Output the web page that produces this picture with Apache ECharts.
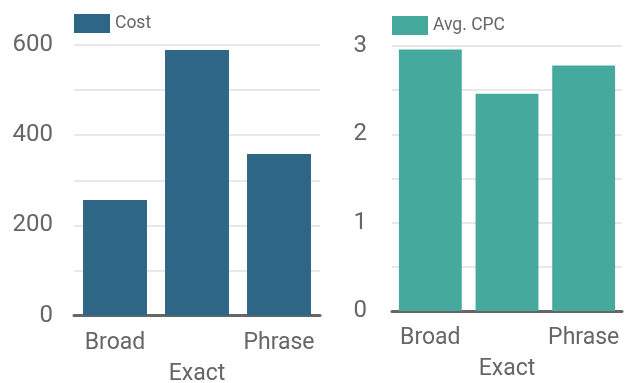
<!DOCTYPE html>
<html><head><meta charset="utf-8">
<script src="https://cdn.jsdelivr.net/npm/echarts@6/dist/echarts.min.js"></script>
<style>html,body{margin:0;padding:0;background:#fff}#c{width:625px;height:383px}</style>
</head><body><div id="c"></div>
<script>
const categories = ['Broad', 'Exact', 'Phrase'];
const costValues = [256, 589, 358];
const cpcValues = [2.96, 2.46, 2.78];
const costTicks = [0, 200, 400, 600];
const cpcTicks = [0, 1, 2, 3];

const font = 'Roboto';
const labelColor = '#666';
function xAxisCfg(gridIndex) {
  return {
    type: 'category', gridIndex, data: categories,
    axisTick: { show: false },
    axisLine: { lineStyle: { color: '#666', width: 3 } },
    axisLabel: {
      color: labelColor, fontFamily: font, fontSize: 23, margin: 12, lineHeight: 31,
      interval: 0,
      formatter: (v, i) => (i % 2 === 1 ? '\n' + v : v)
    }
  };
}
function yAxisCfg(gridIndex, max, interval, ticks, margin) {
  return {
    type: 'value', gridIndex, min: 0, max, interval,
    axisLine: { show: false }, axisTick: { show: false },
    splitLine: { lineStyle: { color: '#e8e8e8', width: 2 } },
    axisLabel: {
      color: labelColor, fontFamily: font, fontSize: 24, margin,
      formatter: v => (ticks.some(t => Math.abs(t - v) < 1e-9) ? String(v) : '')
    }
  };
}
const chart = echarts.init(document.getElementById('c'));
const legendText = { color: labelColor, fontSize: 17.5, fontFamily: font };
chart.setOption({
  animation: false,
  textStyle: { fontFamily: font },
  legend: [
    { data: ['Cost'], left: 74, top: 14, padding: 0, icon: 'rect', itemWidth: 36, itemHeight: 19, itemGap: 6,
      textStyle: legendText },
    { data: ['Avg. CPC'], left: 392, top: 16, padding: 0, icon: 'rect', itemWidth: 36, itemHeight: 19, itemGap: 6,
      textStyle: legendText }
  ],
  grid: [
    { left: 74, width: 246, top: 45, height: 270.5, outerBoundsMode: 'none', containLabel: false },
    { left: 392, width: 230, top: 46, height: 265, outerBoundsMode: 'none', containLabel: false }
  ],
  xAxis: [xAxisCfg(0), xAxisCfg(1)],
  yAxis: [yAxisCfg(0, 600, 100, costTicks, 21), yAxisCfg(1, 3, 0.5, cpcTicks, 25)],
  series: [
    { name: 'Cost', type: 'bar', xAxisIndex: 0, yAxisIndex: 0, data: costValues,
      barCategoryGap: '22%', itemStyle: { color: '#2e6686' } },
    { name: 'Avg. CPC', type: 'bar', xAxisIndex: 1, yAxisIndex: 1, data: cpcValues,
      barCategoryGap: '18%', itemStyle: { color: '#45a99e' } }
  ]
});
</script></body></html>
